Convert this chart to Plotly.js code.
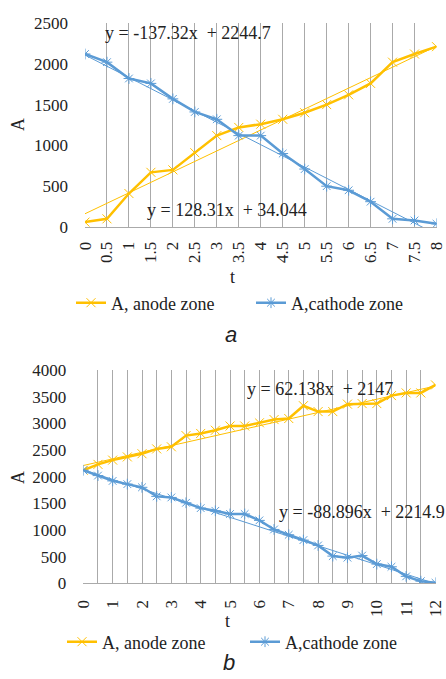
<!DOCTYPE html>
<html>
<head>
<meta charset="utf-8">
<script src="https://cdn.plot.ly/plotly-3.0.1.min.js"></script>
<style>html,body{margin:0;padding:0;background:#fff;}#chart{width:446px;height:679px;}</style>
</head>
<body>
<div id="chart"></div>
<script>
// ---- Data (chart a) ----
const tA = [0, 0.5, 1, 1.5, 2, 2.5, 3, 3.5, 4, 4.5, 5, 5.5, 6, 6.5, 7, 7.5, 8];
const anodeA = [60, 100, 410, 670, 700, 910, 1120, 1220, 1260, 1320, 1400, 1500, 1620, 1760, 2020, 2120, 2210];
const cathodeA = [2120, 2020, 1820, 1760, 1570, 1410, 1320, 1120, 1120, 900, 710, 500, 450, 310, 100, 80, 40];
const tickLabelsA = ['0','0.5','1','1.5','2','2.5','3','3.5','4','4.5','5','5.5','6','6.5','7','7.5','8'];
const trendAnodeA = [128.31, 34.044];
const trendCathodeA = [-137.32, 2244.7];
const eqTextA = ['y = 128.31x  + 34.044', 'y = -137.32x  + 2244.7'];

// ---- Data (chart b) ----
const tB = [0,0.5,1,1.5,2,2.5,3,3.5,4,4.5,5,5.5,6,6.5,7,7.5,8,8.5,9,9.5,10,10.5,11,11.5,12];
const anodeB = [2120, 2230, 2310, 2370, 2430, 2520, 2560, 2770, 2810, 2870, 2950, 2950, 3010, 3070, 3090, 3330, 3220, 3220, 3360, 3370, 3370, 3520, 3570, 3570, 3720];
const cathodeB = [2120, 2020, 1920, 1860, 1800, 1630, 1610, 1510, 1410, 1360, 1300, 1300, 1180, 1010, 910, 810, 710, 510, 480, 520, 360, 310, 130, 40, 10];
const tickValsB = [0,1,2,3,4,5,6,7,8,9,10,11,12];
const tickLabelsB = ['0','1','2','3','4','5','6','7','8','9','10','11','12'];
const trendAnodeB = [62.138, 2147];
const trendCathodeB = [-88.896, 2214.9];
const eqTextB = ['y = 62.138x  + 2147', 'y = -88.896x  + 2214.9'];

const seriesNames = ['A, anode zone', 'A,cathode zone'];

// ---- Style ----
const YEL = '#FFC000', BLU = '#5B9BD5';
const FONT = '"Liberation Serif", "Times New Roman", serif';
const GRID = '#aaaaaa';
const W = 446, H = 679;

function trend(ts, coef) { return ts.map((_, i) => coef[0] * (i + 1) + coef[1]); }

function mainTrace(x, y, name, color, symbol, xa, ya, legend) {
  return {x, y, name, type: 'scatter', mode: 'lines+markers', xaxis: xa, yaxis: ya, legend,
    line: {color, width: 2.5},
    marker: {symbol, size: 9, color, line: {color, width: 1}}};
}
function trendTrace(x, y, color, xa, ya) {
  return {x, y, type: 'scatter', mode: 'lines', xaxis: xa, yaxis: ya, showlegend: false,
    hoverinfo: 'skip', line: {color, width: 1}};
}

const data = [
  trendTrace(tA, trend(tA, trendAnodeA), YEL, 'x', 'y'),
  trendTrace(tA, trend(tA, trendCathodeA), BLU, 'x', 'y'),
  mainTrace(tA, anodeA, seriesNames[0], YEL, 'x-thin-open', 'x', 'y', 'legend'),
  mainTrace(tA, cathodeA, seriesNames[1], BLU, 'asterisk-open', 'x', 'y', 'legend'),
  trendTrace(tB, trend(tB, trendAnodeB), YEL, 'x2', 'y2'),
  trendTrace(tB, trend(tB, trendCathodeB), BLU, 'x2', 'y2'),
  mainTrace(tB, anodeB, seriesNames[0], YEL, 'x-thin-open', 'x2', 'y2', 'legend2'),
  mainTrace(tB, cathodeB, seriesNames[1], BLU, 'asterisk-open', 'x2', 'y2', 'legend2')
];
const px = v => v / W, py = v => 1 - v / H;

const tickFont = {family: FONT, size: 17, color: '#222'};
const xCommon = {showgrid: true, gridcolor: GRID, gridwidth: 1, zeroline: false, showline: true,
  linecolor: GRID, linewidth: 1, ticks: '', tickangle: -90, tickfont: tickFont, fixedrange: true,
  automargin: false, ticklabelstandoff: 7, ticklabeloverflow: 'allow'};
const yCommon = {showgrid: false, zeroline: false, showline: false, ticks: '', tickfont: tickFont,
  fixedrange: true, automargin: false, ticklabelstandoff: 16, ticklabeloverflow: 'allow'};

const annFont = {family: FONT, size: 18, color: '#222'};
const capFont = {family: '"Liberation Sans", Arial, sans-serif', size: 22, style: 'italic', color: '#222'};

const layout = {
  width: W, height: H, margin: {l: 0, r: 0, t: 0, b: 0},
  paper_bgcolor: '#fff', plot_bgcolor: '#fff',
  font: {family: FONT, size: 18, color: '#222'},
  xaxis: Object.assign({}, xCommon, {domain: [px(85), px(436.5)], anchor: 'y', range: [0, 8],
    tickmode: 'array', tickvals: tA, ticktext: tickLabelsA}),
  yaxis: Object.assign({}, yCommon, {domain: [py(227), py(23)], anchor: 'x', range: [0, 2500], dtick: 500}),
  xaxis2: Object.assign({}, xCommon, {domain: [px(83.3), px(435.5)], anchor: 'y2', range: [0, 12],
    tickmode: 'array', tickvals: tickValsB, ticktext: tickLabelsB, showgrid: false, ticklabelstandoff: 9,
    minor: {showgrid: true, dtick: 0.5, tick0: 0, gridcolor: GRID, gridwidth: 1, ticks: ''}}),
  yaxis2: Object.assign({}, yCommon, {domain: [py(583.3), py(370)], anchor: 'x2', range: [0, 4000], dtick: 500}),
  legend: {orientation: 'h', x: px(71), xanchor: 'left', y: py(303), yanchor: 'middle',
    font: annFont, bgcolor: 'rgba(0,0,0,0)', entrywidth: 135, entrywidthmode: 'pixels', traceorder: 'normal'},
  legend2: {orientation: 'h', x: px(62), xanchor: 'left', y: py(642), yanchor: 'middle',
    font: annFont, bgcolor: 'rgba(0,0,0,0)', entrywidth: 138, entrywidthmode: 'pixels', traceorder: 'normal'},
  showlegend: true,
  annotations: [
    {xref: 'x', yref: 'y', x: 1.36, y: 208, text: eqTextA[0], showarrow: false, xanchor: 'left', yanchor: 'middle', font: annFont},
    {xref: 'x', yref: 'y', x: 0.41, y: 2377, text: eqTextA[1], showarrow: false, xanchor: 'left', yanchor: 'middle', font: annFont},
    {xref: 'x2', yref: 'y2', x: 5.52, y: 3637, text: eqTextB[0], showarrow: false, xanchor: 'left', yanchor: 'middle', font: annFont},
    {xref: 'x2', yref: 'y2', x: 6.6, y: 1343, text: eqTextB[1], showarrow: false, xanchor: 'left', yanchor: 'middle', font: annFont},
    {xref: 'paper', yref: 'paper', x: px(18), y: py(125), text: 'A', textangle: -90, showarrow: false, xanchor: 'center', yanchor: 'middle', font: annFont},
    {xref: 'paper', yref: 'paper', x: px(18), y: py(478), text: 'A', textangle: -90, showarrow: false, xanchor: 'center', yanchor: 'middle', font: annFont},
    {xref: 'paper', yref: 'paper', x: px(233), y: py(277), text: 't', showarrow: false, xanchor: 'center', yanchor: 'middle', font: annFont},
    {xref: 'paper', yref: 'paper', x: px(227), y: py(621), text: 't', showarrow: false, xanchor: 'center', yanchor: 'middle', font: annFont},
    {xref: 'paper', yref: 'paper', x: px(231), y: py(334), text: 'a', showarrow: false, xanchor: 'center', yanchor: 'middle', font: capFont},
    {xref: 'paper', yref: 'paper', x: px(229), y: py(662), text: 'b', showarrow: false, xanchor: 'center', yanchor: 'middle', font: capFont}
  ]
};

Plotly.newPlot('chart', data, layout, {staticPlot: true, displayModeBar: false});
</script>
</body>
</html>
